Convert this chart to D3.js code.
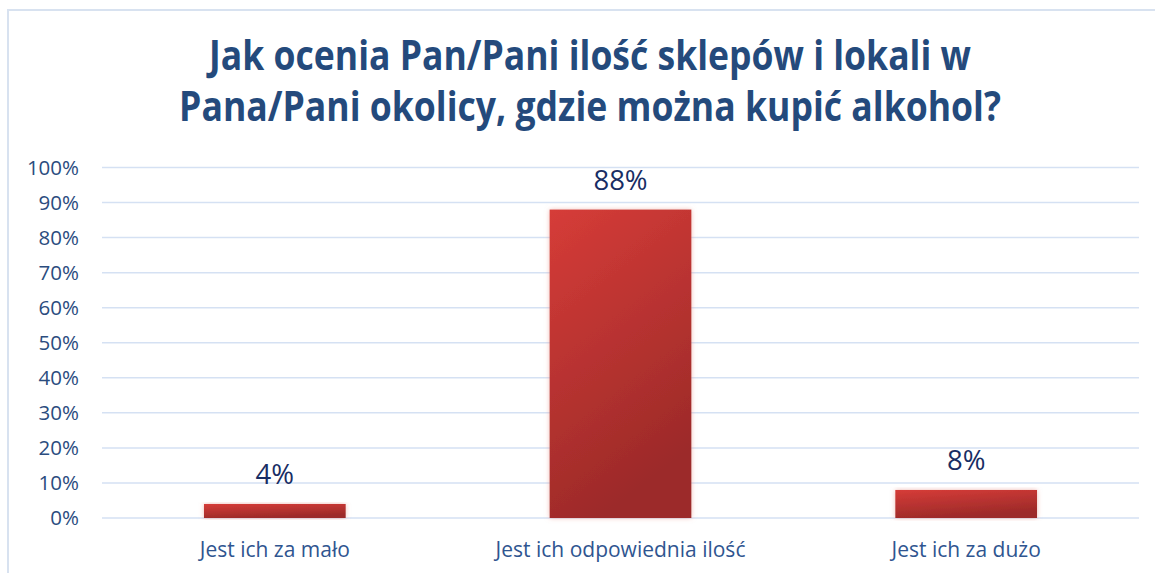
<!DOCTYPE html>
<html>
<head>
<meta charset="utf-8">
<script src="https://cdn.jsdelivr.net/npm/d3@7"></script>
<style>
body { margin: 0; background: #fff; }
svg { display: block; font-family: "Open Sans", sans-serif; }
</style>
</head>
<body>
<svg id="chart"></svg>
<script>
// data
var titleLines = ["Jak ocenia Pan/Pani ilość sklepów i lokali w", "Pana/Pani okolicy, gdzie można kupić alkohol?"]
var categories = ["Jest ich za mało", "Jest ich odpowiednia ilość", "Jest ich za dużo"]
var values = [4, 88, 8]
var yTicks = [0, 10, 20, 30, 40, 50, 60, 70, 80, 90, 100]

function main(){
    var svgWidth = 1155, svgHeight = 573
    var left = 102, right = 1139, top = 167.5, bottom = 518

    var svg = d3.select('#chart')
        .attr('width', svgWidth)
        .attr('height', svgHeight)

    var defs = svg.append('defs')
    var grad = defs.append('linearGradient')
        .attr('id', 'barGrad')
        .attr('x1', 0).attr('y1', 0).attr('x2', 0.35).attr('y2', 1)
    grad.append('stop').attr('offset', '0%').attr('stop-color', '#d63c38')
    grad.append('stop').attr('offset', '100%').attr('stop-color', '#9c2a29')

    var glow = defs.append('filter').attr('id', 'glow')
        .attr('x', '-10%').attr('y', '-10%').attr('width', '120%').attr('height', '120%')
    glow.append('feDropShadow')
        .attr('dx', 0).attr('dy', 0).attr('stdDeviation', 2.5)
        .attr('flood-color', '#e88a80').attr('flood-opacity', 0.55)

    // frame
    svg.append('path')
        .attr('d', 'M8,' + svgHeight + 'V10H' + svgWidth)
        .attr('fill', 'none')
        .attr('stroke', '#d8e2f0')
        .attr('stroke-width', 2)

    // title (Calibri look: narrow & tall, so stretch vertically a bit)
    var titleWidths = [762, 822]
    var titleBaselines = [69.5, 121]
    titleLines.forEach(function(t, i){
        var txt = svg.append('text')
            .attr('text-anchor', 'middle')
            .attr('font-weight', 'bold')
            .attr('font-size', '34px')
            .attr('fill', '#244a7c')
            .text(t)
        var w = txt.node().getComputedTextLength()
        txt.attr('font-size', (34 * titleWidths[i] / w) + 'px')
            .attr('transform', 'translate(590,' + titleBaselines[i] + ') scale(1,1.18)')
    })

    var x = d3.scaleBand()
        .domain(categories)
        .range([left, right])
        .paddingInner(0.59)
        .paddingOuter(0.295)

    var y = d3.scaleLinear()
        .domain([0, 100])
        .range([bottom, top])

    // gridlines
    svg.append('g')
        .selectAll('line')
        .data(yTicks)
        .enter()
        .append('line')
        .attr('x1', left)
        .attr('x2', right)
        .attr('y1', function(d){ return y(d) })
        .attr('y2', function(d){ return y(d) })
        .attr('stroke', '#d5e1f3')
        .attr('stroke-width', 1.5)

    // y axis
    var yAxis = svg.append('g')
        .attr('transform', 'translate(79,0)')
        .call(d3.axisLeft(y).tickValues(yTicks).tickSize(0).tickPadding(0)
            .tickFormat(function(d){ return d + '%' }))
    yAxis.select('.domain').remove()
    yAxis.selectAll('text')
        .attr('font-family', '"Open Sans", sans-serif')
        .attr('font-size', '20.5px')
        .attr('fill', '#2b4c7e')

    // bars
    svg.selectAll('rect.bar')
        .data(values)
        .enter()
        .append('rect')
        .attr('class', 'bar')
        .attr('x', function(d, i){ return x(categories[i]) })
        .attr('y', function(d){ return y(d) })
        .attr('width', x.bandwidth())
        .attr('height', function(d){ return bottom - y(d) })
        .attr('fill', 'url(#barGrad)')
        .attr('filter', 'url(#glow)')

    // value labels
    svg.selectAll('text.val')
        .data(values)
        .enter()
        .append('text')
        .attr('class', 'val')
        .attr('x', function(d, i){ return x(categories[i]) + x.bandwidth() / 2 })
        .attr('y', function(d){ return y(d) - 20 })
        .attr('text-anchor', 'middle')
        .attr('font-size', '27.5px')
        .attr('fill', '#182d64')
        .text(function(d){ return d + '%' })

    // x axis
    var xAxis = svg.append('g')
        .attr('transform', 'translate(0,' + bottom + ')')
        .call(d3.axisBottom(x).tickSize(0).tickPadding(0))
    xAxis.select('.domain').remove()
    xAxis.selectAll('text')
        .attr('dy', 0)
        .attr('y', 39)
        .attr('font-family', '"Open Sans", sans-serif')
        .attr('font-size', '21px')
        .attr('fill', '#2f5590')
}
main()
</script>
</body>
</html>
